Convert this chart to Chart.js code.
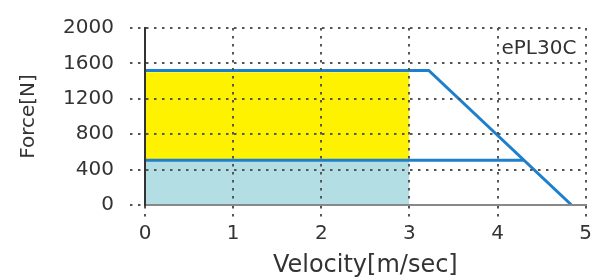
<!DOCTYPE html>
<html>
<head>
<meta charset="utf-8">
<script src="https://cdn.jsdelivr.net/npm/chart.js@4"></script>
<style>
  body { margin: 0; background: #fff; }
  #chart { display: block; }
</style>
</head>
<body>
<canvas id="chart" width="597" height="280"></canvas>
<script>
var xTicks = [0, 1, 2, 3, 4, 5];
var yTicks = [0, 400, 800, 1200, 1600, 2000];

var peakX = [0, 3.22, 4.84];
var peakY = [1520, 1520, 0];

var contX = [0, 4.3];
var contY = [505, 505];

var zoneX = [0, 3];
var contZone = [500, 500];
var peakZone = [1500, 1500];

var modelName = 'ePL30C';

function pts(xs, ys) {
  return xs.map(function (x, i) { return { x: x, y: ys[i] }; });
}

var font = 'DejaVu Sans';
var blue = '#1e7fcd';

var labelPlugin = {
  id: 'modelLabel',
  afterDraw: function (chart) {
    var ctx = chart.ctx;
    var x = chart.scales.x.getPixelForValue(4.47);
    var y = chart.scales.y.getPixelForValue(1770);
    ctx.save();
    ctx.font = '20px "' + font + '"';
    ctx.fillStyle = '#333';
    ctx.textAlign = 'center';
    ctx.textBaseline = 'middle';
    ctx.fillText(modelName, x, y);
    ctx.restore();
  }
};

function plain(v) { return String(v); }

new Chart(document.getElementById('chart').getContext('2d'), {
  type: 'line',
  data: {
    datasets: [
      { data: pts(peakX, peakY), borderColor: blue, borderWidth: 3, fill: false },
      { data: pts(contX, contY), borderColor: blue, borderWidth: 3, fill: false },
      { data: pts(zoneX, contZone), borderWidth: 0, borderColor: 'rgba(0,0,0,0)', backgroundColor: '#b3dfe4', fill: 'origin' },
      { data: pts(zoneX, peakZone), borderWidth: 0, borderColor: 'rgba(0,0,0,0)', backgroundColor: '#fff200', fill: 2 }
    ]
  },
  options: {
    responsive: false,
    animation: false,
    layout: { padding: { top: 22, right: 10, left: 0, bottom: 0 } },
    elements: { point: { radius: 0 }, line: { tension: 0 } },
    plugins: { legend: { display: false }, tooltip: { enabled: false } },
    scales: {
      x: {
        type: 'linear', min: 0, max: 5,
        afterFit: function (s) { s.height = 75; },
        afterBuildTicks: function (s) { s.ticks = xTicks.map(function (v) { return { value: v }; }); },
        ticks: { color: '#333', padding: 5, callback: plain, font: { family: font, size: 20 } },
        grid: { z: 1, color: '#555', lineWidth: 2, tickLength: 12, tickColor: '#555', tickBorderDash: [2.5, 5.5] },
        border: { z: 2, display: true, color: '#888', width: 2, dash: [2.5, 5.5] },
        title: { display: true, text: 'Velocity[m/sec]', color: '#333', padding: { top: 0, bottom: 0 }, font: { family: font, size: 24 } }
      },
      y: {
        min: 0, max: 2000,
        afterFit: function (s) { s.width = 145; },
        afterBuildTicks: function (s) { s.ticks = yTicks.map(function (v) { return { value: v }; }); },
        ticks: { color: '#333', padding: 16, callback: plain, font: { family: font, size: 20 } },
        grid: { z: 1, color: '#555', lineWidth: 2, tickLength: 15, tickColor: '#555', tickBorderDash: [2.5, 5.5] },
        border: { z: 2, display: true, color: '#333', width: 2, dash: [2.5, 5.5] },
        title: { display: true, text: 'Force[N]', color: '#333', padding: { top: 17, bottom: 0 }, font: { family: font, size: 20 } }
      }
    }
  },
  plugins: [labelPlugin]
});
</script>
</body>
</html>
